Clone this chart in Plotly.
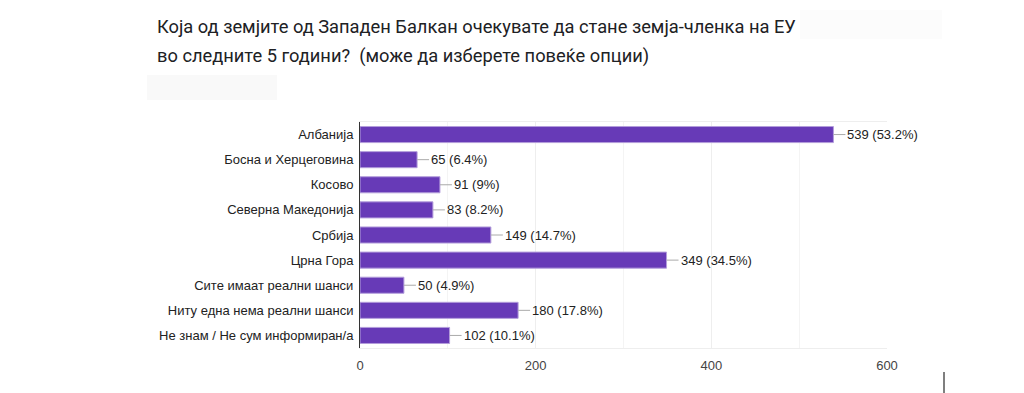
import plotly.graph_objects as go

categories = ["Албанија", "Босна и Херцеговина", "Косово", "Северна Македонија", "Србија",
              "Црна Гора", "Сите имаат реални шанси", "Ниту една нема реални шанси",
              "Не знам / Не сум информиран/а"]
values = [539, 65, 91, 83, 149, 349, 50, 180, 102]
percents = ["53.2%", "6.4%", "9%", "8.2%", "14.7%", "34.5%", "4.9%", "17.8%", "10.1%"]
title_lines = ["Која од земјите од Западен Балкан очекувате да стане земја-членка на ЕУ",
               "во следните 5 години?  (може да изберете повеќе опции)"]
x_ticks = [0, 200, 400, 600]

# plot area in page pixels (reference)
PX0, PW, PY0, PH = 360, 527, 122, 226


def px(x):
    return (x - PX0) / PW


def py(y):
    return (PY0 + PH - y) / PH


fig = go.Figure()
fig.add_trace(go.Bar(
    x=values, y=categories, orientation="h",
    marker=dict(color="#673ab7", line=dict(color="#b39ddb", width=1)),
    width=0.64, hoverinfo="x+y",
))

for c, v, p in zip(categories, values, percents):
    fig.add_annotation(
        x=v, y=c, xref="x", yref="y",
        text=f"{v} ({p})", showarrow=True, arrowhead=0, arrowwidth=1,
        arrowcolor="#aaaaaa", ax=12, ay=0, xanchor="left",
        font=dict(family="Liberation Sans, Arial", size=13, color="#222222"),
    )

for i, line in enumerate(title_lines):
    fig.add_annotation(
        xref="paper", yref="paper", x=px(155), y=py([27, 56][i]),
        xanchor="left", yanchor="middle", showarrow=False, text=line,
        font=dict(family="Roboto", size=18.3, color="#202124"),
    )

# faint artifacts
fig.add_shape(type="rect", xref="paper", yref="paper",
              x0=px(147), x1=px(277), y0=py(100), y1=py(75),
              fillcolor="#f9f9f9", line=dict(width=0), layer="below")
fig.add_shape(type="rect", xref="paper", yref="paper",
              x0=px(800), x1=px(942), y0=py(39), y1=py(10),
              fillcolor="#fcfcfc", line=dict(width=0), layer="below")
fig.add_shape(type="line", xref="paper", yref="paper",
              x0=px(944), x1=px(944), y0=py(393), y1=py(372),
              line=dict(color="#555555", width=1.5))

fig.update_layout(
    width=1016, height=385,
    margin=dict(l=PX0 - 8, r=1016 - (PX0 - 8) - PW, t=PY0 - 8, b=385 - (PY0 - 8) - PH),
    paper_bgcolor="white", plot_bgcolor="white",
    showlegend=False,
    font=dict(family="Liberation Sans, Arial", size=13, color="#222222"),
    xaxis=dict(range=[0, 600], tickvals=x_ticks, ticktext=[str(t) for t in x_ticks],
               showgrid=True, gridcolor="#eeeeee", zeroline=False,
               tickfont=dict(size=13, color="#444444"), ticks="", ticklabelstandoff=5,
               minor=dict(dtick=100, showgrid=True, gridcolor="#f4f4f4"),
               showline=True, linecolor="#eeeeee", mirror=True, fixedrange=True),
    yaxis=dict(autorange="reversed", showgrid=False, zeroline=False,
               showline=True, linecolor="#333333", linewidth=1,
               tickfont=dict(size=13, color="#222222"), ticks="", ticklabelstandoff=3,
               fixedrange=True),
)

fig.write_html("out.html")
